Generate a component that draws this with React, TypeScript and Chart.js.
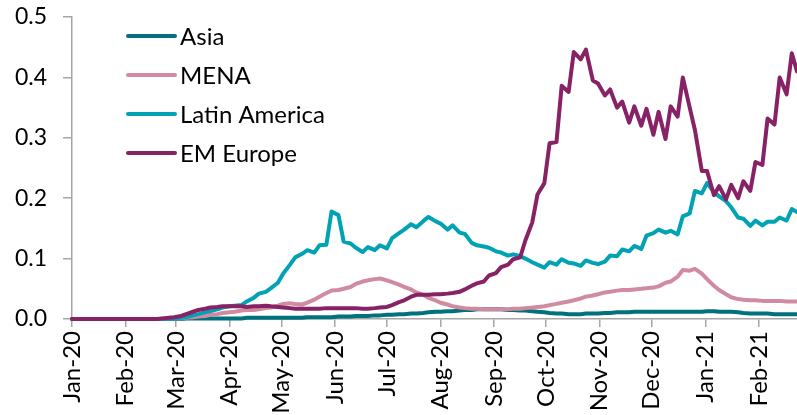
import React, { useEffect, useRef } from "react";
import { Chart, registerables } from "chart.js";

Chart.register(...registerables);

// Day offsets from 1 Jan 2020
const days = [
  0, 7, 14, 21, 28, 35, 42, 49,
  56, 59, 63, 66, 70, 73, 77, 80, 84, 87,
  91, 94, 98, 101, 105, 108, 112, 115, 119, 122,
  126, 129, 133, 136, 140, 143, 147, 150, 154, 157,
  161, 164, 168, 171, 175, 178, 182, 185, 189, 192,
  196, 199, 203, 206, 210, 213, 217, 220, 224, 227,
  231, 234, 238, 241, 245, 248, 252, 255, 259, 262,
  266, 269, 273, 276, 280, 283, 287, 290, 294, 297,
  301, 304, 308, 311, 315, 318, 322, 325, 329, 332,
  336, 339, 343, 346, 350, 353, 357, 360, 364, 367,
  371, 374, 378, 381, 385, 388, 392, 395, 399, 402,
  406, 409, 413, 416, 419,
];

const asia = [
  0, 0, 0, 0, 0, 0, 0, 0,
  0, 0, 0, 0.001, 0.001, 0.001, 0.001, 0.001, 0.001, 0.001,
  0.001, 0.001, 0.001, 0.002, 0.002, 0.002, 0.002, 0.002, 0.002, 0.002,
  0.002, 0.002, 0.002, 0.003, 0.003, 0.003, 0.003, 0.003, 0.004, 0.004,
  0.004, 0.005, 0.005, 0.005, 0.006, 0.006, 0.007, 0.007, 0.008, 0.008,
  0.009, 0.009, 0.01, 0.011, 0.012, 0.012, 0.013, 0.013, 0.014, 0.015,
  0.015, 0.016, 0.016, 0.016, 0.016, 0.016, 0.015, 0.015, 0.014, 0.014,
  0.013, 0.012, 0.011, 0.01, 0.009, 0.009, 0.008, 0.008, 0.008, 0.009,
  0.009, 0.009, 0.01, 0.01, 0.011, 0.011, 0.011, 0.012, 0.012, 0.012,
  0.012, 0.012, 0.012, 0.012, 0.012, 0.012, 0.012, 0.012, 0.012, 0.013,
  0.013, 0.012, 0.012, 0.012, 0.011, 0.01, 0.009, 0.009, 0.009, 0.009,
  0.008, 0.008, 0.008, 0.008, 0.008,
];

const mena = [
  0, 0, 0, 0, 0, 0, 0, 0,
  0, 0.001, 0.001, 0.002, 0.003, 0.004, 0.005, 0.007, 0.008, 0.01,
  0.011, 0.012, 0.014, 0.015, 0.015, 0.016, 0.018, 0.019, 0.022, 0.025,
  0.026, 0.025, 0.024, 0.027, 0.032, 0.037, 0.043, 0.047, 0.048, 0.05,
  0.053, 0.058, 0.062, 0.064, 0.066, 0.067, 0.064, 0.061, 0.057, 0.053,
  0.049, 0.044, 0.04, 0.035, 0.031, 0.027, 0.024, 0.021, 0.019, 0.018,
  0.017, 0.017, 0.016, 0.016, 0.016, 0.016, 0.016, 0.017, 0.017, 0.018,
  0.019, 0.02, 0.021, 0.023, 0.025, 0.027, 0.029, 0.031, 0.034, 0.037,
  0.039, 0.041, 0.044, 0.045, 0.047, 0.048, 0.048, 0.049, 0.05, 0.051,
  0.052, 0.054, 0.06, 0.062, 0.07, 0.081, 0.08, 0.083, 0.075, 0.066,
  0.055, 0.048, 0.041, 0.036, 0.033, 0.032, 0.031, 0.031, 0.03, 0.03,
  0.03, 0.03, 0.029, 0.029, 0.029,
];

const latinAmerica = [
  0, 0, 0, 0, 0, 0, 0, 0,
  0, 0.001, 0.002, 0.003, 0.006, 0.008, 0.011, 0.013, 0.016, 0.019,
  0.021, 0.022, 0.023, 0.029, 0.035, 0.042, 0.045, 0.051, 0.06, 0.075,
  0.09, 0.102, 0.108, 0.114, 0.11, 0.122, 0.123, 0.178, 0.172, 0.128,
  0.125, 0.118, 0.111, 0.119, 0.114, 0.122, 0.117, 0.134, 0.142, 0.148,
  0.157, 0.152, 0.162, 0.169, 0.162, 0.158, 0.148, 0.155, 0.143, 0.141,
  0.126, 0.122, 0.12, 0.118, 0.112, 0.11, 0.105, 0.107, 0.104, 0.1,
  0.094, 0.09, 0.085, 0.094, 0.09, 0.099, 0.093, 0.092, 0.088, 0.097,
  0.093, 0.091, 0.095, 0.105, 0.104, 0.115, 0.112, 0.121, 0.116, 0.138,
  0.142, 0.148, 0.143, 0.146, 0.14, 0.17, 0.175, 0.212, 0.208, 0.225,
  0.21, 0.203, 0.195, 0.185, 0.168, 0.166, 0.154, 0.163, 0.155, 0.161,
  0.161, 0.168, 0.163, 0.182, 0.177,
];

const emEurope = [
  0, 0, 0, 0, 0, 0, 0, 0,
  0.002, 0.003, 0.005, 0.008, 0.012, 0.015, 0.017, 0.019, 0.02, 0.021,
  0.021, 0.021, 0.021, 0.02, 0.021, 0.021, 0.022, 0.021, 0.02, 0.019,
  0.018, 0.017, 0.017, 0.017, 0.017, 0.017, 0.018, 0.018, 0.018, 0.018,
  0.018, 0.018, 0.017, 0.017, 0.018, 0.019, 0.02, 0.023, 0.028, 0.031,
  0.037, 0.04, 0.04, 0.04, 0.041, 0.041, 0.042, 0.043, 0.045, 0.049,
  0.055, 0.059, 0.062, 0.072, 0.076, 0.086, 0.09, 0.099, 0.102, 0.13,
  0.16, 0.206, 0.225, 0.291, 0.293, 0.386, 0.376, 0.442, 0.43, 0.446,
  0.395, 0.39, 0.37, 0.38, 0.35, 0.36, 0.325, 0.352, 0.32, 0.348,
  0.305, 0.343, 0.298, 0.352, 0.335, 0.4, 0.35, 0.313, 0.245, 0.245,
  0.205, 0.22, 0.198, 0.222, 0.2, 0.228, 0.212, 0.26, 0.255, 0.332,
  0.322, 0.4, 0.372, 0.44, 0.41,
];

const monthDays = [0, 31, 60, 91, 121, 152, 182, 213, 244, 274, 305, 335, 366, 397];
const monthLabels = [
  "Jan-20", "Feb-20", "Mar-20", "Apr-20", "May-20", "Jun-20", "Jul-20",
  "Aug-20", "Sep-20", "Oct-20", "Nov-20", "Dec-20", "Jan-21", "Feb-21",
];

const seriesNames = ["Asia", "MENA", "Latin America", "EM Europe"];
const seriesValues = [asia, mena, latinAmerica, emEurope];
const seriesColors = ["#00717D", "#D18BA0", "#00A2B3", "#862265"];

const FONT = "Lato, 'Open Sans', sans-serif";
const AXIS_GRAY = "#A6A6A6";

const insideLegend = {
  id: "insideLegend",
  afterDraw(chart: any) {
    const { ctx, chartArea } = chart;
    ctx.save();
    ctx.font = `24px ${FONT}`;
    ctx.textBaseline = "middle";
    ctx.textAlign = "left";
    chart.data.datasets.forEach((ds: any, i: number) => {
      const y = chartArea.top + 19 + i * 39;
      const x0 = chartArea.left + 56;
      ctx.strokeStyle = ds.borderColor;
      ctx.lineWidth = 4;
      ctx.lineCap = "round";
      ctx.beginPath();
      ctx.moveTo(x0, y);
      ctx.lineTo(x0 + 47, y);
      ctx.stroke();
      ctx.fillStyle = "#000";
      ctx.fillText(ds.label, x0 + 52, y + 1);
    });
    ctx.restore();
  },
};

export default function App() {
  const ref = useRef<HTMLCanvasElement | null>(null);

  useEffect(() => {
    document.body.style.margin = "0";
    const canvas = ref.current;
    if (!canvas) return;
    const chart = new Chart(canvas, {
      type: "line",
      data: {
        datasets: seriesNames.map((name, i) => ({
          label: name,
          data: days.map((d, j) => ({ x: d, y: seriesValues[i][j] })),
          borderColor: seriesColors[i],
          backgroundColor: seriesColors[i],
          borderWidth: 4,
          pointRadius: 0,
          tension: 0,
          fill: false,
          clip: 6,
          order: seriesNames.length - i,
          borderJoinStyle: "round" as const,
          borderCapStyle: "round" as const,
        })),
      },
      options: {
        responsive: false,
        animation: false,
        devicePixelRatio: 1,
        layout: { padding: { top: 17, right: 0, left: 0, bottom: 0 } },
        plugins: {
          legend: { display: false },
          tooltip: { enabled: false },
        },
        scales: {
          x: {
            type: "linear",
            min: 0,
            max: 419,
            afterBuildTicks: (scale: any) => {
              scale.ticks = monthDays.map((v) => ({ value: v }));
            },
            afterFit: (scale: any) => {
              scale.height = 96;
              scale.paddingLeft = 0;
              scale.paddingRight = 0;
            },
            ticks: {
              autoSkip: false,
              maxRotation: 90,
              minRotation: 90,
              padding: 4,
              color: "#000",
              font: { family: FONT, size: 24 },
              callback: (_v: any, index: number) => monthLabels[index],
            },
            grid: {
              display: true,
              drawOnChartArea: false,
              drawTicks: true,
              tickLength: 8,
              color: AXIS_GRAY,
              lineWidth: 1.5,
            },
            border: { display: true, color: AXIS_GRAY, width: 1.5 },
          },
          y: {
            type: "linear",
            min: 0,
            max: 0.5,
            afterFit: (scale: any) => {
              scale.width = 72;
              scale.paddingTop = 0;
              scale.paddingBottom = 0;
            },
            ticks: {
              stepSize: 0.1,
              padding: 16,
              color: "#000",
              font: { family: FONT, size: 23 },
              callback: (v: any) => Number(v).toFixed(1),
            },
            grid: {
              display: true,
              drawOnChartArea: false,
              drawTicks: true,
              tickLength: 9,
              color: AXIS_GRAY,
              lineWidth: 1.5,
            },
            border: { display: true, color: AXIS_GRAY, width: 1.5 },
          },
        },
      },
      plugins: [insideLegend],
    });
    return () => chart.destroy();
  }, []);

  return (
    <div style={{ width: 797, height: 415, background: "#fff" }}>
      <canvas ref={ref} width={797} height={415} style={{ display: "block" }} />
    </div>
  );
}
